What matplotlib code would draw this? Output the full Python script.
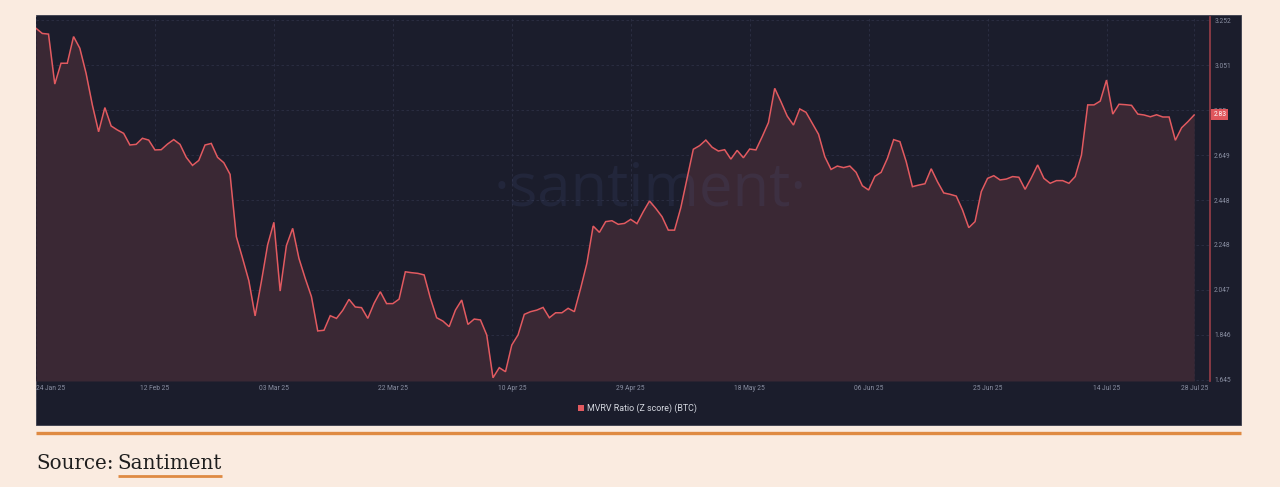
import matplotlib
matplotlib.use("Agg")
import matplotlib.pyplot as plt
import matplotlib.dates as mdates
from matplotlib.patches import Rectangle
from matplotlib.lines import Line2D
import pandas as pd
import numpy as np

# ---------------- data ----------------
start_date = "2025-01-24"
mvrv_values = [
    3.215, 3.192, 3.189, 2.966, 3.059, 3.059, 3.178, 3.126, 3.014, 2.873,
    2.753, 2.861, 2.779, 2.761, 2.746, 2.694, 2.697, 2.724, 2.716, 2.672,
    2.673, 2.698, 2.718, 2.697, 2.639, 2.603, 2.625, 2.694, 2.701, 2.639,
    2.615, 2.563, 2.285, 2.188, 2.088, 1.931, 2.084, 2.248, 2.349, 2.042,
    2.245, 2.322, 2.188, 2.099, 2.017, 1.864, 1.867, 1.932, 1.920, 1.956,
    2.005, 1.971, 1.968, 1.920, 1.987, 2.039, 1.986, 1.986, 2.006, 2.128,
    2.124, 2.121, 2.114, 2.010, 1.923, 1.908, 1.883, 1.957, 2.002, 1.893,
    1.917, 1.913, 1.846, 1.655, 1.700, 1.682, 1.801, 1.846, 1.938, 1.950,
    1.957, 1.969, 1.923, 1.945, 1.945, 1.965, 1.950, 2.054, 2.166, 2.332,
    2.304, 2.352, 2.356, 2.340, 2.344, 2.362, 2.343, 2.396, 2.444, 2.411,
    2.374, 2.314, 2.314, 2.414, 2.545, 2.675, 2.691, 2.716, 2.684, 2.667,
    2.673, 2.631, 2.670, 2.637, 2.676, 2.672, 2.731, 2.794, 2.947, 2.887,
    2.823, 2.783, 2.855, 2.840, 2.791, 2.742, 2.642, 2.585, 2.600, 2.593,
    2.600, 2.572, 2.512, 2.493, 2.554, 2.572, 2.634, 2.718, 2.709, 2.620,
    2.508, 2.515, 2.521, 2.588, 2.530, 2.480, 2.474, 2.466, 2.404, 2.325,
    2.352, 2.486, 2.545, 2.557, 2.538, 2.542, 2.553, 2.550, 2.496, 2.548,
    2.605, 2.545, 2.523, 2.535, 2.535, 2.523, 2.553, 2.649, 2.873, 2.873,
    2.890, 2.984, 2.832, 2.876, 2.874, 2.871, 2.832, 2.828, 2.820, 2.829,
    2.819, 2.819, 2.715, 2.771, 2.798, 2.828,
]
x_tick_dates = ["2025-01-24", "2025-02-12", "2025-03-03", "2025-03-22", "2025-04-10",
                "2025-04-29", "2025-05-18", "2025-06-06", "2025-06-25", "2025-07-14",
                "2025-07-28"]
x_tick_labels = ["24 Jan 25", "12 Feb 25", "03 Mar 25", "22 Mar 25", "10 Apr 25",
                 "29 Apr 25", "18 May 25", "06 Jun 25", "25 Jun 25", "14 Jul 25",
                 "28 Jul 25"]
y_ticks = [1.645, 1.846, 2.047, 2.248, 2.448, 2.649, 2.85, 3.051, 3.252]
y_tick_labels = ["1.645", "1.846", "2.047", "2.248", "2.448", "2.649", "2.85", "3.051", "3.252"]
series_name = "MVRV Ratio (Z score) (BTC)"
last_label = "2.83"

dates = pd.date_range(start_date, periods=len(mvrv_values), freq="D")

# ---------------- style ----------------
W, H = 1280, 487
PAGE = "#FAEBE0"
PANEL = "#1B1D2C"
LINE = "#E25A60"
FILL = "#3A2834"
GRID = "#2C3044"
TICK = "#8A8FA2"
ORANGE = "#DF8A42"

fig = plt.figure(figsize=(W / 100, H / 100), dpi=100, facecolor=PAGE)

def fx(px):
    return px / W

def fy(py):
    return 1 - py / H

# dark panel
panel = Rectangle((fx(36), fy(425)), fx(1241) - fx(36), fy(15) - fy(425),
                  transform=fig.transFigure, facecolor=PANEL,
                  edgecolor="#3a3d4c", linewidth=0.6, zorder=-5)
fig.patches.append(panel)

# axes
ax_l, ax_r, ax_t, ax_b = 36, 1210, 17, 381
ax = fig.add_axes([fx(ax_l), fy(ax_b), fx(ax_r) - fx(ax_l), fy(ax_t) - fy(ax_b)])
ax.set_zorder(2)
ax.set_facecolor(PANEL)

d0 = mdates.date2num(dates[0])
px_per_day = 6.264
ax.set_xlim(d0 + (ax_l - 35.3) / px_per_day, d0 + (ax_r - 35.3) / px_per_day)
ppu = 224.0
ax.set_ylim(1.645 - (ax_b - 380) / ppu, 3.252 + (20 - ax_t) / ppu)

ymin = ax.get_ylim()[0]
ax.fill_between(dates, mvrv_values, ymin, color=FILL, linewidth=0, zorder=1)
ax.plot(dates, mvrv_values, color=LINE, linewidth=1.1, zorder=4, solid_joinstyle="miter")

# watermark
ax.text(0.523, 0.525, "\u00b7santiment\u00b7", transform=ax.transAxes, ha="center", va="center",
        fontsize=43, family="Open Sans", color="#5a6aa8", alpha=0.12, zorder=3)

# grid / spines
for s in ["top", "left", "bottom"]:
    ax.spines[s].set_visible(False)
ax.spines["right"].set_color("#9A3E48")
ax.spines["right"].set_linewidth(1.2)

ax.yaxis.tick_right()
ax.set_yticks(y_ticks)
ax.set_yticklabels(y_tick_labels)
ax.set_xticks([mdates.date2num(pd.Timestamp(d)) for d in x_tick_dates])
ax.set_xticklabels(x_tick_labels)
ax.tick_params(axis="both", length=0, labelsize=4.8, labelcolor=TICK)
ax.tick_params(axis="y", pad=3)
ax.tick_params(axis="x", pad=3)
for lab in ax.get_xticklabels() + ax.get_yticklabels():
    lab.set_family("Roboto")
ax.get_xticklabels()[0].set_ha("left")
ax.grid(True, color=GRID, linestyle=(0, (3, 3)), linewidth=0.6, zorder=0)
ax.set_axisbelow(True)

# last value badge
ax.annotate(last_label, xy=(1.0, mvrv_values[-1]), xycoords=("axes fraction", "data"),
            xytext=(2.5, 0), textcoords="offset points", ha="left", va="center",
            fontsize=4.8, family="Roboto", color="white", zorder=10,
            bbox=dict(boxstyle="square,pad=0.3", facecolor="#E0565C", edgecolor="none"),
            annotation_clip=False)

# legend
fig.patches.append(Rectangle((fx(578), fy(411)), fx(584) - fx(578), fy(405) - fy(411),
                             transform=fig.transFigure, facecolor=LINE, edgecolor="none",
                             zorder=3))
fig.text(fx(587), fy(408), series_name, ha="left", va="center", fontsize=6.4,
         family="Roboto", color="#D5D8E0", zorder=3)

# orange separator
fig.add_artist(Line2D([fx(36), fx(1241)], [fy(432.5), fy(432.5)], transform=fig.transFigure,
                      color=ORANGE, linewidth=2.4, solid_capstyle="butt"))

# source line
t1 = fig.text(fx(36), fy(469), "Source:", ha="left", va="baseline", fontsize=14.3,
              family="DejaVu Serif", color="#1E1E1E")
renderer = fig.canvas.get_renderer()
bb1 = t1.get_window_extent(renderer)
space_px = 4
t2 = fig.text((bb1.x1 + space_px) / W, fy(469), "Santiment", ha="left", va="baseline",
              fontsize=14.3, family="DejaVu Serif", color="#1E1E1E")
bb2 = t2.get_window_extent(renderer)
fig.add_artist(Line2D([bb2.x0 / W, bb2.x1 / W], [fy(475.5), fy(475.5)], transform=fig.transFigure,
                      color=ORANGE, linewidth=2.0, solid_capstyle="butt"))

fig.savefig("out.png", dpi=100, facecolor=PAGE)
